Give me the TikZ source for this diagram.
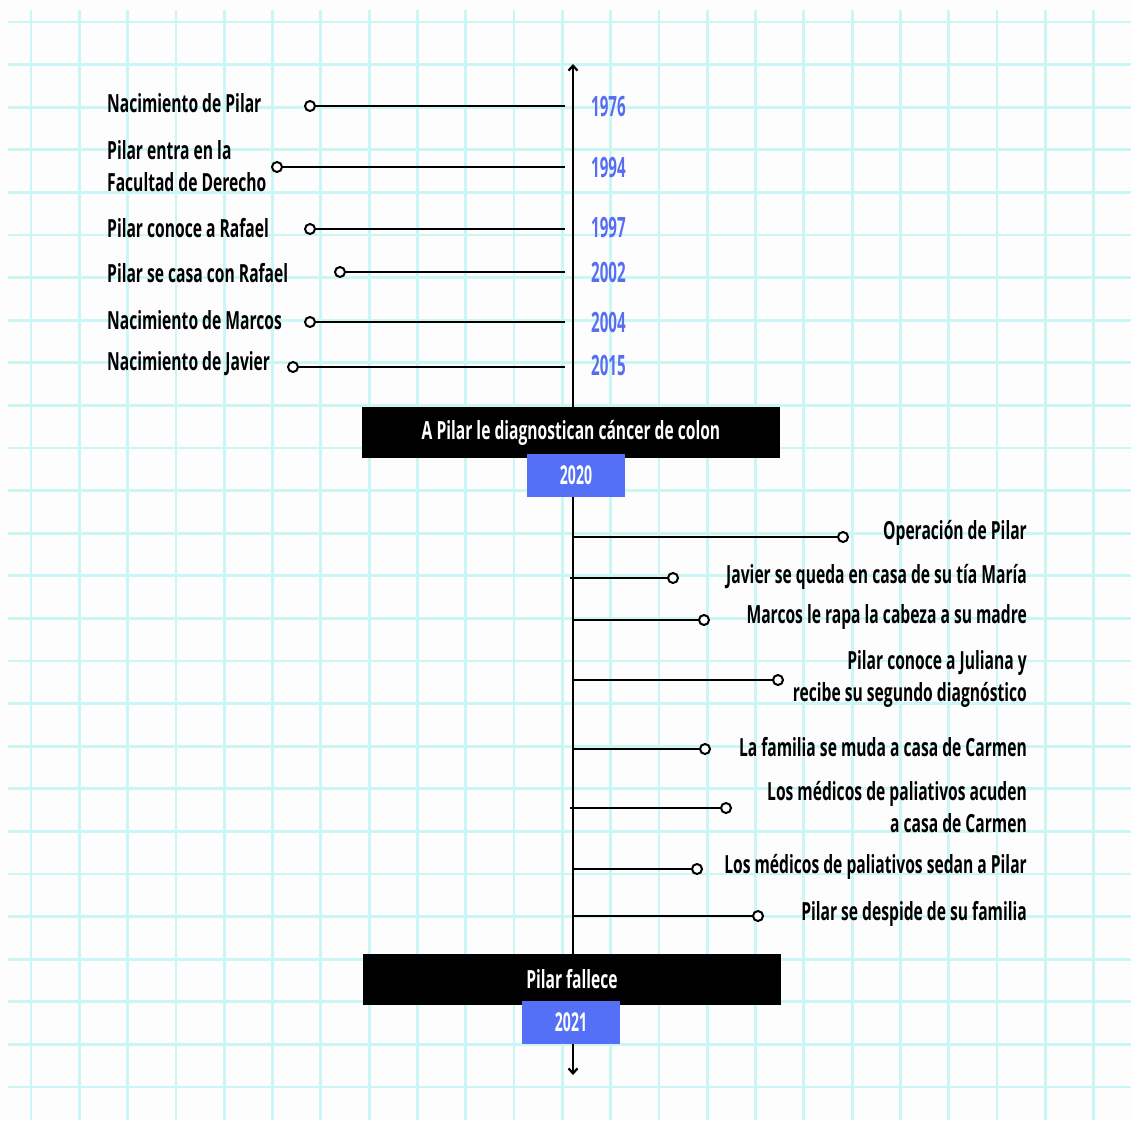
\documentclass[tikz,border=0pt]{standalone}
\usepackage{fontspec}
\usetikzlibrary{arrows.meta}
\newfontfamily\handfont[FakeStretch=0.625]{Open Sans}
\newfontfamily\yearfont[FakeStretch=0.54]{Open Sans}
\definecolor{gridc}{RGB}{202,246,246}
\definecolor{yearblue}{RGB}{88,110,240}
\definecolor{boxblue}{RGB}{84,112,247}
\definecolor{paper}{RGB}{253,253,253}
\begin{document}
\begin{tikzpicture}[x=1pt,y=-1pt,
  lbl/.style={font=\handfont\bfseries\fontsize{25}{32}\selectfont, inner sep=0pt},
  llbl/.style={lbl, anchor=west, align=left},
  rlbl/.style={lbl, anchor=east, align=right},
  yr/.style={font=\yearfont\bfseries\fontsize{28}{30}\selectfont, text=yearblue, inner sep=0pt, anchor=west},
  dot/.style={circle, draw=black, fill=white, line width=2pt, minimum size=10pt, inner sep=0pt},
  conn/.style={line width=2.3pt},
  bigbox/.style={fill=black, text=white, minimum width=418pt, minimum height=51pt, inner sep=0pt, font=\handfont\bfseries\fontsize{25}{30}\selectfont},
  yearbox/.style={fill=boxblue, text=white, minimum width=98pt, minimum height=43pt, inner sep=0pt, font=\yearfont\bfseries\fontsize{26}{30}\selectfont},
  gridline/.style={gridc, line width=2.8pt}
]
\useasboundingbox (0,0) rectangle (1131,1120);
\fill[paper] (0,0) rectangle (1131,1120);
\foreach \k in {0,...,22} \draw[gridline] ({31+48.3*\k},10) -- ({31+48.3*\k},1120);
\foreach \k in {0,...,25} \draw[gridline] (8,{22+42.6*\k}) -- (1131,{22+42.6*\k});

% axis
\coordinate (top) at (573,64);
\coordinate (bot) at (573,1075);
\draw[line width=2.2pt, {Straight Barb[length=5pt,width=9pt]}-{Straight Barb[length=5pt,width=9pt]}] (bot) -- (top);

% left events
\node[llbl] (l1) at (107,103) {Nacimiento de Pilar};
\node[llbl] (l2) at (107,166) {Pilar entra en la\\Facultad de Derecho};
\node[llbl] (l3) at (107,228) {Pilar conoce a Rafael};
\node[llbl] (l4) at (107,273) {Pilar se casa con Rafael};
\node[llbl] (l5) at (107,320) {Nacimiento de Marcos};
\node[llbl] (l6) at (107,364) {Nacimiento de Javier};

\node[dot] (c1) at (310,106) {};
\node[dot] (c2) at (277,167) {};
\node[dot] (c3) at (310,229) {};
\node[dot] (c4) at (340,272) {};
\node[dot] (c5) at (310,322) {};
\node[dot] (c6) at (293,367) {};

\coordinate (e1) at (565,106);
\coordinate (e2) at (565,167);
\coordinate (e3) at (565,229);
\coordinate (e4) at (565,272);
\coordinate (e5) at (565,322);
\coordinate (e6) at (565,367);

\foreach \i in {1,...,6} \draw[conn] (c\i) -- (e\i);

\node[yr] (y1) at (591,107) {1976};
\node[yr] (y2) at (591,168) {1994};
\node[yr] (y3) at (591,228) {1997};
\node[yr] (y4) at (591,272) {2002};
\node[yr] (y5) at (591,322) {2004};
\node[yr] (y6) at (591,365) {2015};

% first milestone
\node[bigbox] (diag) at (571,432.5) {A Pilar le diagnostican cáncer de colon};
\node[yearbox] (y2020) at (576,475.5) {2020};

% right events
\coordinate (s1) at (573,537);
\coordinate (s2) at (570,578);
\coordinate (s3) at (573,620);
\coordinate (s4) at (573,680);
\coordinate (s5) at (573,749);
\coordinate (s6) at (570,808);
\coordinate (s7) at (573,869);
\coordinate (s8) at (573,916);

\node[dot] (d1) at (843,537) {};
\node[dot] (d2) at (673,578) {};
\node[dot] (d3) at (704,620) {};
\node[dot] (d4) at (778,680) {};
\node[dot] (d5) at (705,749) {};
\node[dot] (d6) at (726,808) {};
\node[dot] (d7) at (697,869) {};
\node[dot] (d8) at (758,916) {};

\foreach \i in {1,...,8} \draw[conn] (s\i) -- (d\i);

\node[rlbl] (r1) at (1027,533) {Operación de Pilar};
\node[rlbl] (r2) at (1027,577) {Javier se queda en casa de su tía María};
\node[rlbl] (r3) at (1027,617) {Marcos le rapa la cabeza a su madre};
\node[rlbl] (r4) at (1027,679) {Pilar conoce a Juliana y\\recibe su segundo diagnóstico};
\node[rlbl] (r5) at (1027,747) {La familia se muda a casa de Carmen};
\node[rlbl] (r6) at (1027,807) {Los médicos de paliativos acuden\\a casa de Carmen};
\node[rlbl] (r7) at (1027,867) {Los médicos de paliativos sedan a Pilar};
\node[rlbl] (r8) at (1027,914) {Pilar se despide de su familia};

% final milestone
\node[bigbox] (death) at (572,979.5) {Pilar fallece};
\node[yearbox] (y2021) at (571,1022.5) {2021};
\end{tikzpicture}
\end{document}
